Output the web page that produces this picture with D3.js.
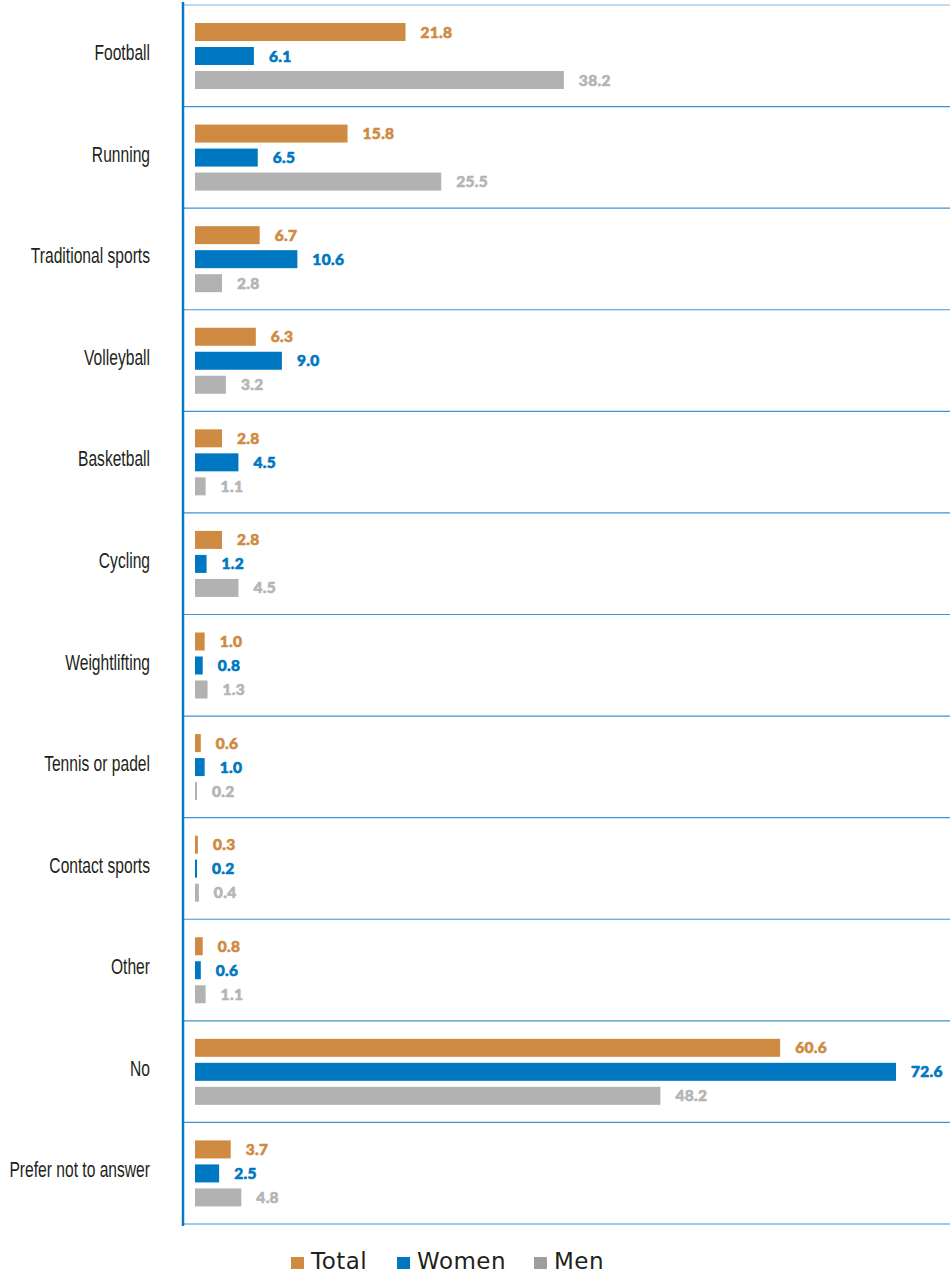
<!DOCTYPE html>
<html><head><meta charset="utf-8">
<script src="https://cdn.jsdelivr.net/npm/d3@7"></script>
<style>body{margin:0;background:#fff;}</style>
</head><body>
<svg id="c" width="950" height="1274"></svg>
<script>
const categories = ["Football","Running","Traditional sports","Volleyball","Basketball","Cycling","Weightlifting","Tennis or padel","Contact sports","Other","No","Prefer not to answer"];
const totalValues = [21.8,15.8,6.7,6.3,2.8,2.8,1.0,0.6,0.3,0.8,60.6,3.7];
const womenValues = [6.1,6.5,10.6,9.0,4.5,1.2,0.8,1.0,0.2,0.6,72.6,2.5];
const menValues = [38.2,25.5,2.8,3.2,1.1,4.5,1.3,0.2,0.4,1.1,48.2,4.8];
const seriesNames = ["Total","Women","Men"];

const colors = {Total:"#D08B43", Women:"#0078C1", Men:"#B2B2B2"};
const labelColors = {Total:"#D08B43", Women:"#0078C1", Men:"#B5B5B5"};
const legendColors = {Total:"#D08B43", Women:"#0078C1", Men:"#9E9E9E"};
const seriesData = {Total: totalValues, Women: womenValues, Men: menValues};

const svg = d3.select("#c");
const x0 = 195;
const x = d3.scaleLinear().domain([0, 72.6]).range([x0, 896]);
const y = d3.scaleBand().domain(categories).range([5, 1224]).paddingInner(0).paddingOuter(0);
const inner = d3.scaleBand().domain(seriesNames).range([18, 84]).paddingInner(0.25).paddingOuter(0);

// separators
svg.append("g").selectAll("line").data(categories).join("line")
  .attr("x1", 183).attr("x2", 950)
  .attr("y1", d => y(d) + y.bandwidth()).attr("y2", d => y(d) + y.bandwidth())
  .attr("stroke", "#3f94d3").attr("stroke-width", 1.2);
svg.append("line").attr("x1",183).attr("x2",950).attr("y1",5).attr("y2",5)
  .attr("stroke","#7ab6e3").attr("stroke-width",1.2);

// bars
const g = svg.append("g");
categories.forEach((c, i) => {
  seriesNames.forEach(s => {
    const v = seriesData[s][i];
    const yy = y(c) + inner(s);
    g.append("rect").attr("x", x0).attr("y", yy)
      .attr("width", Math.max(x(v) - x0, 2)).attr("height", inner.bandwidth())
      .attr("fill", colors[s]);
    g.append("text").attr("x", Math.max(x(v), x0 + 2) + 15).attr("y", yy + inner.bandwidth()/2)
      .attr("dy", "0.36em").attr("fill", labelColors[s])
      .attr("stroke", labelColors[s]).attr("stroke-width", 0.6)
      .attr("font-family", "Lato, sans-serif").attr("font-weight", 900)
      .attr("font-size", 15.5).attr("letter-spacing", 0.3).text(v.toFixed(1));
  });
});

// category labels (condensed look)
svg.append("g").selectAll("text").data(categories).join("text")
  .attr("transform", d => `translate(150,${y(d) + 47.3}) scale(0.71,1)`)
  .attr("dy", "0.35em").attr("text-anchor", "end")
  .attr("font-family", "'Liberation Sans', Arial, sans-serif")
  .attr("font-size", 22).attr("fill", "#231f20")
  .text(d => d);

// axis line
svg.append("line").attr("x1",183).attr("x2",183).attr("y1",2).attr("y2",1226)
  .attr("stroke","#0a78c8").attr("stroke-width",2.5);

// legend
const legendX = [291, 397, 534];
const lg = svg.append("g");
seriesNames.forEach((s, i) => {
  lg.append("rect").attr("x", legendX[i]).attr("y", 1257).attr("width", 13).attr("height", 12).attr("fill", legendColors[s]);
  lg.append("text").attr("x", legendX[i] + 20).attr("y", 1261).attr("dy", "0.36em")
    .attr("font-family", "'DejaVu Sans', sans-serif").attr("font-size", 23).attr("fill", "#231f20")
    .attr("letter-spacing", 0.5).text(s);
});
</script>
</body></html>
